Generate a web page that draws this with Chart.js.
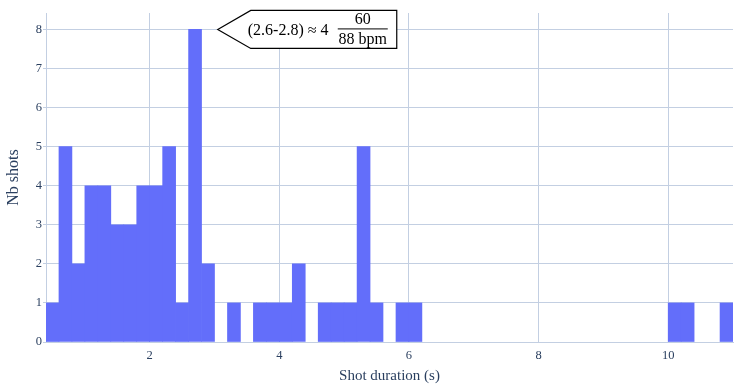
<!DOCTYPE html>
<html>
<head>
<meta charset="utf-8">
<script src="https://cdn.jsdelivr.net/npm/chart.js@4"></script>
<style>
  html, body { margin: 0; padding: 0; background: #fff; }
  #wrap { width: 747px; height: 388px; position: relative; }
</style>
</head>
<body>
<div id="wrap"><canvas id="hist"></canvas></div>
<script>
// histogram bins (centre of each 0.2 s bin) and shot counts
const binCenters = [0.5, 0.7, 0.9, 1.1, 1.3, 1.5, 1.7, 1.9, 2.1, 2.3, 2.5, 2.7, 2.9, 3.1, 3.3, 3.5, 3.7, 3.9,
  4.1, 4.3, 4.5, 4.7, 4.9, 5.1, 5.3, 5.5, 5.7, 5.9, 6.1, 6.3, 6.5, 6.7, 6.9, 7.1, 7.3, 7.5, 7.7, 7.9,
  8.1, 8.3, 8.5, 8.7, 8.9, 9.1, 9.3, 9.5, 9.7, 9.9, 10.1, 10.3, 10.5, 10.7, 10.9];
const shotCounts = [1, 5, 2, 4, 4, 3, 3, 4, 4, 5, 1, 8, 2, 0, 1, 0, 1, 1,
  1, 2, 0, 1, 1, 1, 5, 1, 0, 1, 1, 0, 0, 0, 0, 0, 0, 0, 0, 0,
  0, 0, 0, 0, 0, 0, 0, 0, 0, 0, 1, 1, 0, 0, 1];
const xTicks = [2, 4, 6, 8, 10];
const yTicks = [0, 1, 2, 3, 4, 5, 6, 7, 8];
const noteText = '(2.6-2.8) \u2248 4';
const noteNum = '60';
const noteDen = '88 bpm';
const noteAt = { x: 3.05, y: 8 };

const gridColor = '#c3cfe2';
const inkColor = '#2a3f5f';
const serif = '"Liberation Serif", "DejaVu Serif", serif';

const calloutPlugin = {
  id: 'callout',
  afterDraw(chart) {
    const c = chart.ctx;
    const tx = chart.scales.x.getPixelForValue(noteAt.x);
    const ty = chart.scales.y.getPixelForValue(noteAt.y);
    const left = tx + 33, right = tx + 179, top = ty - 19, bot = ty + 19;
    c.save();
    c.beginPath();
    c.moveTo(tx, ty);
    c.lineTo(left, top);
    c.lineTo(right, top);
    c.lineTo(right, bot);
    c.lineTo(left, bot);
    c.closePath();
    c.fillStyle = '#fff';
    c.fill();
    c.strokeStyle = '#000';
    c.lineWidth = 1.2;
    c.stroke();
    c.fillStyle = '#000';
    c.font = '16px ' + serif;
    c.textBaseline = 'middle';
    c.textAlign = 'left';
    c.fillText(noteText, tx + 30, ty + 1);
    c.textAlign = 'center';
    c.fillText(noteNum, tx + 145, ty - 10);
    c.fillText(noteDen, tx + 145, ty + 10);
    c.beginPath();
    c.moveTo(tx + 120, ty - 0.5);
    c.lineTo(tx + 170, ty - 0.5);
    c.lineWidth = 1;
    c.stroke();
    c.restore();
  }
};

new Chart(document.getElementById('hist'), {
  type: 'bar',
  data: {
    datasets: [{
      // empty bins are left out so no sliver is drawn on the baseline
      data: binCenters.map((x, i) => ({ x: x, y: shotCounts[i] || null })),
      backgroundColor: '#636efa',
      borderWidth: 0,
      barPercentage: 1,
      categoryPercentage: 1
    }]
  },
  options: {
    responsive: true,
    maintainAspectRatio: false,
    animation: false,
    layout: { padding: { top: 13, right: 14, left: 0, bottom: 0 } },
    plugins: { legend: { display: false }, tooltip: { enabled: false } },
    scales: {
      x: {
        type: 'linear',
        min: 0.4, max: 11.0,
        offset: false,
        grid: { color: gridColor, drawTicks: false, offset: false },
        border: { display: true, color: gridColor },
        afterBuildTicks: s => { s.ticks = xTicks.map(v => ({ value: v })); },
        afterFit: s => { s.height = 46; },
        ticks: { color: inkColor, font: { family: serif, size: 12.5 }, padding: 6, maxRotation: 0 },
        title: { display: true, text: 'Shot duration (s)', color: inkColor, font: { family: serif, size: 15 }, padding: { top: 4, bottom: 3 } }
      },
      y: {
        min: 0, max: 8.42,
        grid: { color: gridColor, drawTicks: true, tickLength: 3, tickColor: gridColor },
        border: { display: true, color: gridColor },
        afterBuildTicks: s => { s.ticks = yTicks.map(v => ({ value: v })); },
        afterFit: s => { s.width = 46; },
        ticks: { color: inkColor, font: { family: serif, size: 12.5 }, padding: 1 },
        title: { display: true, text: 'Nb shots', color: inkColor, font: { family: serif, size: 16 }, padding: { top: 4, bottom: 4 } }
      }
    }
  },
  plugins: [calloutPlugin]
});
</script>
</body>
</html>
